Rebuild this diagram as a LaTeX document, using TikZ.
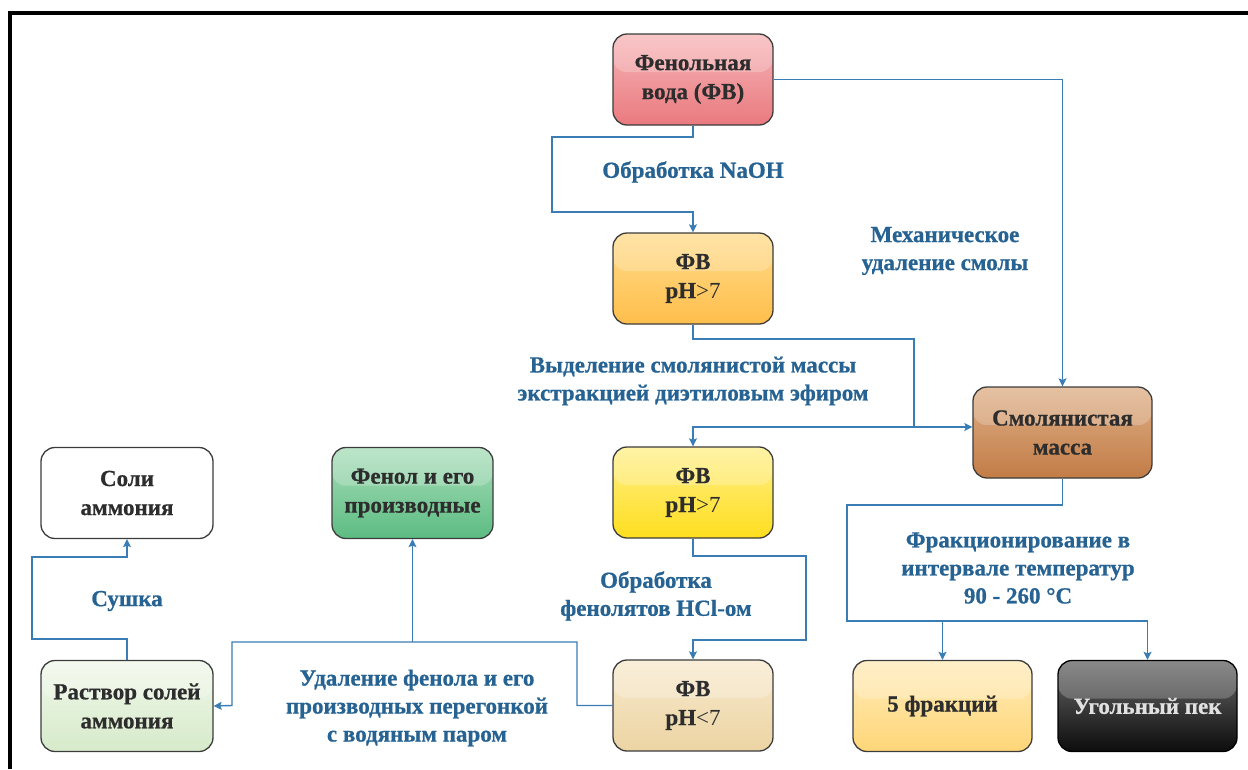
\documentclass[tikz,border=0pt]{standalone}
\usepackage{fontspec}
\setmainfont{Liberation Serif}[BoldFeatures={FakeBold=0.7}]
\usetikzlibrary{arrows.meta,calc}
\definecolor{lc}{RGB}{58,125,180}
\definecolor{tc}{RGB}{38,98,146}
\definecolor{nt}{RGB}{45,45,45}
\definecolor{bl}{RGB}{60,60,60}
\tikzset{
  box/.style={rounded corners=14pt, draw=bl, line width=1.3pt,
    minimum width=160pt, minimum height=91pt, align=center,
    font=\fontsize{23}{29}\selectfont\bfseries, text=nt, inner sep=2pt,
    path picture={\fill[white,opacity=0.22] (path picture bounding box.north west) rectangle ($(path picture bounding box.north east)!0.42!(path picture bounding box.south east)$);}},
  lbl/.style={text=tc, font=\fontsize{23}{28}\selectfont\bfseries, align=center, inner sep=0pt},
  conn/.style={draw=lc, line width=1.4pt},
  arr/.style={conn, -{Stealth[length=8pt,width=8pt,inset=1.5pt]}},
}
\begin{document}
\begin{tikzpicture}[x=1pt,y=-1pt]
\useasboundingbox (0,0) rectangle (1248,769);
\draw[line width=3.5pt] (10,769) -- (10,13) -- (1248,13);

\node[box, top color={rgb,255:red,247;green,182;blue,184}, bottom color={rgb,255:red,233;green,122;blue,127}] (fen) at (693,79.5) {Фенольная\\вода (ФВ)};
\node[box, top color={rgb,255:red,255;green,220;blue,140}, bottom color={rgb,255:red,255;green,190;blue,75}] (ph1) at (693,278.5) {ФВ\\pH{\mdseries >7}};
\node[box, top color={rgb,255:red,255;green,240;blue,140}, bottom color={rgb,255:red,255;green,222;blue,30}] (ph2) at (693,492.5) {ФВ\\pH{\mdseries >7}};
\node[box, top color={rgb,255:red,248;green,234;blue,206}, bottom color={rgb,255:red,236;green,212;blue,163}] (ph3) at (693,705.5) {ФВ\\pH{\mdseries <7}};
\node[box, minimum width=179pt, top color={rgb,255:red,222;green,176;blue,136}, bottom color={rgb,255:red,194;green,124;blue,70}] (smol) at (1062.5,432.5) {Смолянистая\\масса};
\node[box, minimum width=161pt, top color={rgb,255:red,170;green,222;blue,186}, bottom color={rgb,255:red,92;green,188;blue,130}] (fenol) at (412.5,493) {Фенол и его\\производные};
\node[box, minimum width=172pt, fill=white] (soli) at (127,493) {Соли\\аммония};
\node[box, minimum width=172pt, top color={rgb,255:red,240;green,248;blue,234}, bottom color={rgb,255:red,214;green,234;blue,202}] (rast) at (127,706) {Раствор солей\\аммония};
\node[box, minimum width=179pt, top color={rgb,255:red,255;green,236;blue,186}, bottom color={rgb,255:red,255;green,214;blue,120}] (fr) at (942.5,706) {5 фракций};
\node[box, minimum width=179pt, draw=black, text={rgb,255:red,225;green,225;blue,225}, top color={rgb,255:red,105;green,105;blue,105}, bottom color={rgb,255:red,12;green,12;blue,12}] (pek) at (1147.5,706) {Угольный пек};

\node[lbl] (l1) at (693,172) {Обработка NaOH};
\node[lbl] (l2) at (945,251) {Механическое\\удаление смолы};
\node[lbl] (l3) at (693,381) {Выделение смолянистой массы\\экстракцией диэтиловым эфиром};
\node[lbl] (l4) at (656,596) {Обработка\\фенолятов HCl-ом};
\node[lbl] (l5) at (417,708) {Удаление фенола и его\\производных перегонкой\\с водяным паром};
\node[lbl] (l6) at (127,601) {Сушка};
\node[lbl] (l7) at (1018,568) {Фракционирование в\\интервале температур\\90 - 260 °C};

\draw[arr] (fen.south) -- (693,137) -- (552,137) -- (552,212) -- (693,212) -- (ph1.north);
\draw[arr] (fen.east) -| (smol.north);
\draw[conn] (ph1.south) -- (693,339) -- (914,339) -- (914,427);
\draw[arr] (914,427) -- (smol.west |- 0,427);
\draw[arr] (914,427) -- (693,427) -- (ph2.north);
\draw[arr] (ph2.south) -- (693,556) -- (806,556) -- (806,640) -- (693,640) -- (ph3.north);
\draw[arr] (ph3.west) -- (577,705.5) -- (577,642) -- (232,642) -- (232,705.5) -- (rast.east);
\draw[arr] (412.5,642) -- (fenol.south);
\draw[arr] (rast.north) -- (127,639) -- (32,639) -- (32,557) -- (127,557) -- (soli.south);
\draw[conn] (smol.south) -- (1062.5,505) -- (847,505) -- (847,621) -- (1147.5,621);
\draw[arr] (1147.5,621) -- (pek.north);
\draw[arr] (942.5,621) -- (fr.north);
\end{tikzpicture}
\end{document}
